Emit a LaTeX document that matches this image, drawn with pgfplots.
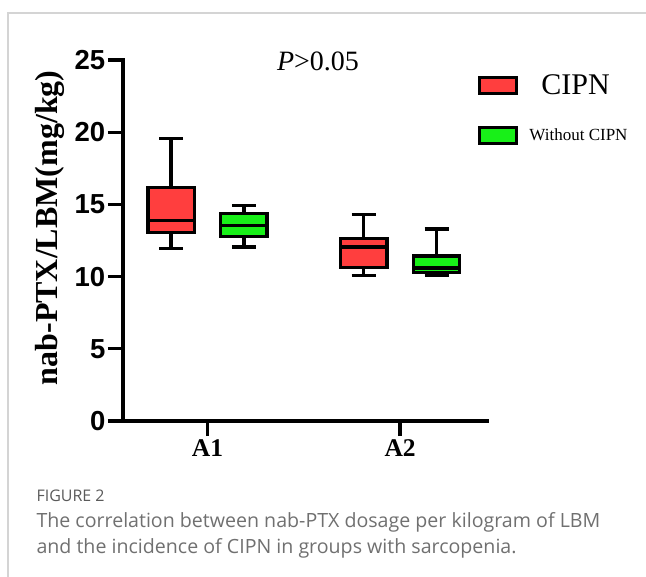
\documentclass[border=0pt]{standalone}
\usepackage{fontspec}
\setmainfont{Liberation Serif}
\newfontfamily\arialf{Liberation Sans}
\newfontfamily\capf{Open Sans}
\usepackage{pgfplots}
\pgfplotsset{compat=1.18}
\usepgfplotslibrary{statistics}
\definecolor{cipnred}{RGB}{255,62,62}
\definecolor{nocipngreen}{RGB}{24,240,24}
\definecolor{framegray}{RGB}{212,212,212}
\definecolor{capgray}{RGB}{112,112,112}

\begin{document}
\begin{tikzpicture}
\useasboundingbox (0,0) rectangle (646pt,-577pt);
\draw[framegray, line width=1.5pt] (8pt,-577pt) -- (8pt,-13pt) -- (646pt,-13pt);
\begin{axis}[
  at={(123pt,-421pt)}, anchor=south west,
  width=364pt, height=361pt, scale only axis,
  xmin=0.561, xmax=2.451, ymin=0, ymax=25,
  axis x line*=bottom, axis y line*=left,
  axis line style={line width=3.3pt, -, black, line cap=rect},
  tick align=outside, major tick length=15pt,
  every tick/.style={black, line width=3.3pt},
  xtick={1,2}, xticklabels={A1,A2},
  ytick={0,5,10,15,20,25},
  /pgf/number format/assume math mode=true,
  yticklabel style={font=\arialf\bfseries\fontsize{27.5}{27.5}\selectfont, inner sep=2.5pt},
  xticklabel style={font=\bfseries\fontsize{25.5}{25.5}\selectfont},
  ylabel={nab-PTX/LBM(mg/kg)},
  ylabel style={at={(axis description cs:-0.2005,0.535)}, anchor=center,
    font=\bfseries\fontsize{32}{32}\selectfont},
  boxplot/draw direction=y,
  legend style={at={(axis description cs:0.967,0.966)}, anchor=north west,
    draw=none, fill=none, row sep=30pt, column sep=0pt,
    nodes={inner sep=0pt}},
  legend cell align=center,
]
% A1 CIPN
\addplot[forget plot, draw=black, fill=cipnred, line width=3.3pt,
  boxplot prepared={draw position=0.811, lower whisker=11.95, lower quartile=13.05,
    median=13.9, upper quartile=16.16, upper whisker=19.55,
    box extend=0.24, whisker extend=0.125}] coordinates {};
% A1 without CIPN
\addplot[forget plot, draw=black, fill=nocipngreen, line width=3.3pt,
  boxplot prepared={draw position=1.189, lower whisker=12.04, lower quartile=12.8,
    median=13.53, upper quartile=14.36, upper whisker=14.9,
    box extend=0.24, whisker extend=0.125}] coordinates {};
% A2 CIPN
\addplot[forget plot, draw=black, fill=cipnred, line width=3.3pt,
  boxplot prepared={draw position=1.811, lower whisker=10.1, lower quartile=10.63,
    median=12.04, upper quartile=12.64, upper whisker=14.3,
    box extend=0.24, whisker extend=0.125}] coordinates {};
% A2 without CIPN
\addplot[forget plot, draw=black, fill=nocipngreen, line width=3.3pt,
  boxplot prepared={draw position=2.189, lower whisker=10.08, lower quartile=10.3,
    median=10.6, upper quartile=11.42, upper whisker=13.3,
    box extend=0.24, whisker extend=0.125}] coordinates {};

\addlegendimage{legend image code/.code={\draw[black, fill=cipnred, line width=3.3pt] (0pt,-8pt) rectangle (37pt,8pt);}}
\addlegendentry{\hspace*{5pt}\fontsize{30}{30}\selectfont CIPN}
\addlegendimage{legend image code/.code={\draw[black, fill=nocipngreen, line width=3.3pt] (0pt,-8pt) rectangle (37pt,8pt);}}
\addlegendentry{\hspace*{11pt}\fontsize{17}{17}\selectfont Without CIPN}
\end{axis}
\node[font=\fontsize{28}{28}\selectfont] at (318pt,-61pt) {\textit{P}>0.05};
\node[anchor=base west, font=\capf\fontsize{16}{16}\selectfont, text=capgray!80!black] at (33pt,-502pt) {FIGURE 2};
\node[anchor=base west, font=\capf\fontsize{19.6}{19.6}\selectfont, text=capgray] at (33pt,-528pt) {The correlation between nab-PTX dosage per kilogram of LBM};
\node[anchor=base west, font=\capf\fontsize{19.6}{19.6}\selectfont, text=capgray] at (33pt,-553pt) {and the incidence of CIPN in groups with sarcopenia.};
\end{tikzpicture}
\end{document}
